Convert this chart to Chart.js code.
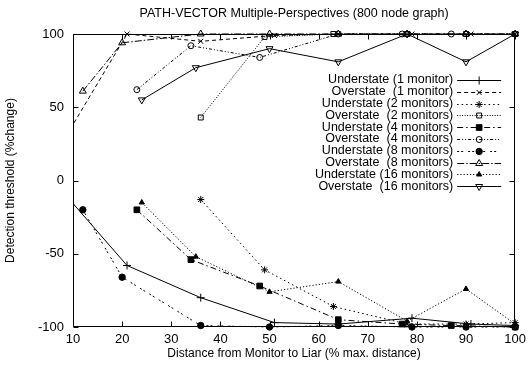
<!DOCTYPE html>
<html lang="en">
<head>
    <meta charset="UTF-8" />
    <title>PATH-VECTOR Multiple-Perspectives</title>
    <script src="https://cdn.jsdelivr.net/npm/chart.js@4.4.1/dist/chart.umd.min.js"></script>
    <style>
        body { margin: 0; background: #fff; }
    </style>
</head>
<body>
    <canvas id="chart" width="531" height="366"></canvas>

    <script>
        // series names (legend order)
        const seriesNames = [
            'Understate (1 monitor)',
            'Overstate  (1 monitor)',
            'Understate (2 monitors)',
            'Overstate  (2 monitors)',
            'Understate (4 monitors)',
            'Overstate  (4 monitors)',
            'Understate (8 monitors)',
            'Overstate  (8 monitors)',
            'Understate (16 monitors)',
            'Overstate  (16 monitors)'
        ];

        // x = distance (% max), y = detection threshold (%change)
        const under1X = [8, 21, 36, 51, 64, 79, 91, 100];
        const under1Y = [-8, -58, -80, -97, -98, -94, -98, -99];
        const over1X = [8, 21, 36, 51, 64, 79, 91, 100];
        const over1Y = [27, 100, 95, 99, 100, 100, 100, 100];

        const under2X = [36, 49, 63, 78, 90, 100];
        const under2Y = [-13, -61, -86, -98, -98, -97];
        const over2X = [36, 49, 63, 78, 90, 100];
        const over2Y = [43, 98, 100, 100, 100, 100];

        const under4X = [23, 34, 48, 64, 77, 87, 100];
        const under4Y = [-20, -54, -72, -95, -98, -99, -100];
        const over4X = [23, 34, 48, 64, 77, 87, 100];
        const over4Y = [62, 92, 84, 100, 100, 100, 100];

        const under8X = [12, 20, 36, 50, 64, 79, 90, 100];
        const under8Y = [-20, -66, -99, -100, -99, -100, -100, -100];
        const over8X = [12, 20, 36, 50, 64, 78, 90, 100];
        const over8Y = [61, 94, 100, 100, 100, 100, 100, 100];

        const under16X = [24, 35, 50, 64, 78, 90, 100];
        const under16Y = [-15, -52, -76, -69, -96, -74, -98];
        const over16X = [24, 35, 50, 64, 78, 90, 100];
        const over16Y = [55, 77, 90, 81, 100, 81, 100];

        const xTicks = [10, 20, 30, 40, 50, 60, 70, 80, 90, 100];
        const yTicks = [-100, -50, 0, 50, 100];

        const allX = [under1X, over1X, under2X, over2X, under4X, over4X, under8X, over8X, under16X, over16X];
        const allY = [under1Y, over1Y, under2Y, over2Y, under4Y, over4Y, under8Y, over8Y, under16Y, over16Y];

        // gnuplot-ish line types / markers
        const looks = [
            { dash: [], style: 'cross', fill: false, r: 4 },
            { dash: [4, 3], style: 'crossRot', fill: false, r: 3.5 },
            { dash: [1.5, 3], style: 'star', fill: false, r: 3.5 },
            { dash: [1, 1.5], style: 'rect', fill: false, r: 3.5 },
            { dash: [6, 3, 1.5, 3], style: 'rect', fill: true, r: 4 },
            { dash: [3, 2, 1, 2, 1, 2], style: 'circle', fill: false, r: 3 },
            { dash: [2, 2, 2, 5], style: 'circle', fill: true, r: 3.2 },
            { dash: [7, 2, 1.5, 2], style: 'triangle', fill: false, r: 4 },
            { dash: [1.2, 2], style: 'triangle', fill: true, r: 3 },
            { dash: [], style: 'triangle', fill: false, r: 4, rot: 180 }
        ];

        const FONT = "'Liberation Sans', Arial, Helvetica, sans-serif";

        const datasets = seriesNames.map((name, i) => ({
            label: name,
            data: allX[i].map((x, k) => ({ x: x, y: allY[i][k] })),
            borderColor: '#000',
            borderWidth: 1,
            borderDash: looks[i].dash,
            pointStyle: looks[i].style,
            pointRadius: looks[i].r,
            pointRotation: looks[i].rot || 0,
            pointBorderWidth: 1,
            pointBorderColor: '#000',
            pointBackgroundColor: looks[i].fill ? '#000' : 'rgba(0,0,0,0)',
            tension: 0,
            fill: false,
            clip: { left: 0, top: 8, right: 8, bottom: 8 }
        }));

        // box, inward ticks, title and gnuplot-style key
        const framePlugin = {
            id: 'frame',
            afterDatasetsDraw(chart) {
                const ctx = chart.ctx;
                const a = chart.chartArea;
                const xs = chart.scales.x, ys = chart.scales.y;
                const L = Math.round(a.left) + 0.5, R = Math.round(a.right) - 0.5;
                const T = Math.round(a.top) + 0.5, B = Math.round(a.bottom) - 0.5;
                const tl = 5;
                ctx.save();
                ctx.strokeStyle = '#000';
                ctx.lineWidth = 1;
                ctx.setLineDash([]);
                ctx.beginPath();
                ctx.rect(L, T, R - L, B - T);
                xTicks.forEach(v => {
                    const px = Math.round(xs.getPixelForValue(v)) + 0.5;
                    ctx.moveTo(px, B); ctx.lineTo(px, B - tl);
                    ctx.moveTo(px, T); ctx.lineTo(px, T + tl);
                });
                yTicks.forEach(v => {
                    const py = Math.round(ys.getPixelForValue(v)) + 0.5;
                    ctx.moveTo(L, py); ctx.lineTo(L + tl, py);
                    ctx.moveTo(R, py); ctx.lineTo(R - tl, py);
                });
                ctx.stroke();

                // title
                ctx.fillStyle = '#000';
                ctx.font = '12.5px ' + FONT;
                ctx.textAlign = 'center';
                ctx.textBaseline = 'middle';
                ctx.fillText('PATH-VECTOR Multiple-Perspectives (800 node graph)', (a.left + a.right) / 2, 14);

                // key
                const sampleR = a.right - 14, sampleL = sampleR - 44, mid = (sampleL + sampleR) / 2;
                chart.data.datasets.forEach((ds, i) => {
                    const y = a.top + 46 + i * 11.8;
                    ctx.font = '12.5px ' + FONT;
                    ctx.textAlign = 'right';
                    ctx.fillStyle = '#000';
                    ctx.fillText(ds.label, sampleL - 4, y);
                    ctx.setLineDash(ds.borderDash);
                    ctx.beginPath();
                    ctx.moveTo(sampleL, Math.round(y) + 0.5);
                    ctx.lineTo(sampleR, Math.round(y) + 0.5);
                    ctx.stroke();
                    ctx.setLineDash([]);
                    ctx.fillStyle = ds.pointBackgroundColor;
                    Chart.helpers.drawPoint(ctx, {
                        pointStyle: ds.pointStyle,
                        radius: ds.pointRadius,
                        rotation: ds.pointRotation,
                        borderWidth: 1
                    }, mid, Math.round(y) + 0.5);
                });
                ctx.restore();
            }
        };

        new Chart(document.getElementById('chart').getContext('2d'), {
            type: 'line',
            data: { datasets: datasets },
            options: {
                responsive: false,
                animation: false,
                devicePixelRatio: 1,
                layout: { padding: { top: 34, right: 15, left: 0, bottom: 0 } },
                plugins: {
                    legend: { display: false },
                    tooltip: { enabled: false },
                    title: { display: false }
                },
                scales: {
                    x: {
                        type: 'linear',
                        min: 10,
                        max: 100,
                        afterBuildTicks: s => { s.ticks = xTicks.map(v => ({ value: v })); },
                        afterFit: s => { s.height = 39; },
                        grid: { display: false, drawTicks: false },
                        border: { display: false },
                        ticks: { color: '#000', font: { family: FONT, size: 13 }, padding: 5, maxRotation: 0 },
                        title: {
                            display: true,
                            text: 'Distance from Monitor to Liar (% max. distance)',
                            color: '#000',
                            font: { family: FONT, size: 12 },
                            padding: { top: 0, bottom: 5 }
                        }
                    },
                    y: {
                        type: 'linear',
                        min: -100,
                        max: 100,
                        afterBuildTicks: s => { s.ticks = yTicks.map(v => ({ value: v })); },
                        afterFit: s => { s.width = 73; },
                        grid: { display: false, drawTicks: false },
                        border: { display: false },
                        ticks: { color: '#000', font: { family: FONT, size: 13 }, padding: 9 },
                        title: {
                            display: true,
                            text: 'Detection threshold (%change)',
                            color: '#000',
                            font: { family: FONT, size: 12 },
                            padding: { top: 3, bottom: 0 }
                        }
                    }
                }
            },
            plugins: [framePlugin]
        });
    </script>
</body>
</html>
